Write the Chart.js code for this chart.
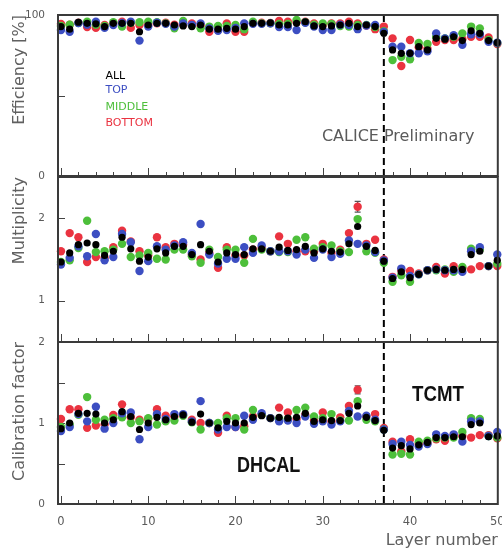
<!DOCTYPE html>
<html><head><meta charset="utf-8">
<script src="https://cdn.jsdelivr.net/npm/chart.js@4.4.1/dist/chart.umd.min.js"></script>
<style>
html,body{margin:0;padding:0;background:#fff;}
#wrap{position:relative;width:502px;height:550px;overflow:hidden;background:#fff;}
canvas{position:absolute;left:0;}
</style></head><body>
<div id="wrap">
<canvas id="c1" width="502" height="190" style="top:0px"></canvas>
<canvas id="c2" width="502" height="190" style="top:165px"></canvas>
<canvas id="c3" width="502" height="220" style="top:330px"></canvas>
</div>
<script>
const layers = [0,1,2,3,4,5,6,7,8,9,10,11,12,13,14,15,16,17,18,19,20,21,22,23,24,25,26,27,28,29,30,31,32,33,34,35,36,37,38,39,40,41,42,43,44,45,46,47,48,49,50];
const xTickLabels = [0,10,20,30,40,50];
const seriesNames = ['ALL','TOP','MIDDLE','BOTTOM'];

const effAll = [92.8,91.2,95.5,94.8,94.5,92.8,94.8,94.8,94.8,89.6, 93.8,94.8,94.8,93.8,93.2,92.8,93.8,91.2,91.2,91.7, 91.2,92.8,94.8,94.8,95.2,93.8,93.8,94.8,95.8,93.2, 92.8,93.2,93.8,94.8,92.8,93.8,92.8,88.6,78.3,76.2, 76.2,80.3,78.3,85.5,85,86.5,84.1,90.2,88.6,84.1,82.8];
const effTop = [90.7,89.6,95,94,95.8,92,93.8,95,95.8,84.1, 92.8,95.2,94.5,92.8,94.8,93.8,94.8,91.7,90.2,90.7, 92,94.8,94.5,94.5,94.8,92.5,92.5,90.7,95.2,92.8, 90.7,90.7,94,93.8,91.2,93.5,93.8,89.5,80.3,80.3, 76.2,76.2,77.5,88.6,85.5,87.5,81.5,88,88,83.4,82.8];
const effMid = [93.2,94,95,95.8,94,93.2,95.5,92.8,95.2,95.5, 95.8,95.5,94.8,91.7,96.3,93.5,91.7,92.8,93.2,93.2, 93.8,91.2,95.8,94.8,94.8,94.5,94.5,96.9,95.5,94, 94.8,94.5,93.2,92.8,93.8,93.8,92.5,90,72,74.1, 72.5,82.6,82,86.5,85.5,86.5,88.6,92.8,91.7,84.5,82.6];
const effBot = [94.5,94,95.2,92.5,92,93.8,95,95.8,92,93.8, 94,94.8,95.2,94,94,94.8,93.5,89.6,90.7,94.8, 89.6,89.6,95,95.2,95,96.3,95.8,95.5,95.8,94.8, 93.8,94.8,94.8,95.8,94.8,93.5,91.2,92.8,85.5,68.3, 84.5,80,79,83.4,84.5,84.5,85,86.5,86.5,86,82];

const multAll = [1.47,1.58,1.68,1.70,1.68,1.55,1.60,1.77,1.63,1.48, 1.53,1.63,1.58,1.66,1.66,1.56,1.68,1.60,1.47,1.58, 1.56,1.56,1.63,1.63,1.60,1.65,1.61,1.62,1.66,1.58, 1.63,1.60,1.59,1.69,1.90,1.66,1.61,1.48,1.27,1.35, 1.28,1.32,1.37,1.38,1.37,1.38,1.38,1.56,1.60,1.42,1.49];
const multTop = [1.44,1.52,1.66,1.54,1.81,1.49,1.53,1.81,1.71,1.36, 1.48,1.66,1.62,1.67,1.71,1.58,1.93,1.56,1.45,1.51, 1.51,1.65,1.58,1.67,1.60,1.60,1.60,1.56,1.62,1.52, 1.62,1.53,1.57,1.73,1.69,1.67,1.59,1.49,1.28,1.39, 1.30,1.32,1.37,1.38,1.37,1.37,1.35,1.60,1.65,1.42,1.56];
const multMid = [1.47,1.49,1.64,1.97,1.59,1.60,1.62,1.69,1.53,1.55, 1.58,1.51,1.50,1.62,1.62,1.54,1.46,1.62,1.53,1.62, 1.62,1.46,1.75,1.62,1.60,1.59,1.59,1.74,1.77,1.63, 1.65,1.67,1.60,1.59,1.99,1.60,1.58,1.46,1.23,1.31, 1.23,1.32,1.37,1.37,1.38,1.35,1.41,1.63,1.62,1.42,1.45];
const multBot = [1.60,1.82,1.77,1.47,1.53,1.52,1.65,1.85,1.72,1.60, 1.55,1.77,1.65,1.69,1.68,1.56,1.50,1.58,1.40,1.65, 1.55,1.55,1.62,1.64,1.60,1.78,1.69,1.60,1.60,1.60, 1.69,1.58,1.62,1.82,2.14,1.69,1.74,1.50,1.29,1.37, 1.36,1.33,1.37,1.41,1.33,1.42,1.39,1.38,1.42,1.42,1.42];
const multBotErr = {34: 0.065};

const calAll = [0.93,1.00,1.12,1.12,1.11,1.00,1.04,1.14,1.08,0.92, 1.00,1.07,1.04,1.08,1.10,1.01,1.11,1.00,0.94,1.02, 1.00,1.00,1.07,1.09,1.06,1.07,1.06,1.07,1.12,1.02, 1.04,1.03,1.03,1.12,1.21,1.07,1.03,0.91,0.69,0.72, 0.68,0.73,0.76,0.82,0.82,0.83,0.83,0.98,1.00,0.83,0.84];
const calTop = [0.90,0.95,1.11,1.02,1.20,0.93,1.00,1.12,1.13,0.80, 0.95,1.11,1.05,1.11,1.11,1.02,1.27,1.00,0.92,0.95, 0.95,1.09,1.04,1.12,1.06,1.02,1.03,1.00,1.08,0.99, 1.02,0.98,1.02,1.15,1.08,1.09,1.04,0.92,0.74,0.77, 0.73,0.71,0.74,0.86,0.84,0.86,0.77,1.02,1.02,0.84,0.89];
const calMid = [0.95,0.98,1.10,1.32,1.04,1.04,1.06,1.07,1.00,1.02, 1.06,0.98,1.02,1.03,1.09,1.01,0.92,1.00,1.00,1.06, 1.06,0.92,1.16,1.10,1.06,1.05,1.05,1.16,1.19,1.08, 1.06,1.11,1.03,1.03,1.27,1.04,1.02,0.92,0.61,0.62, 0.61,0.77,0.78,0.81,0.82,0.82,0.89,1.06,1.05,0.84,0.82];
const calBot = [1.05,1.17,1.17,0.94,0.97,0.98,1.10,1.23,1.07,1.04, 1.05,1.17,1.09,1.08,1.10,1.04,1.00,1.00,0.88,1.09, 0.95,0.96,1.08,1.10,1.06,1.19,1.13,1.05,1.10,1.03, 1.13,1.02,1.07,1.21,1.41,1.08,1.11,0.94,0.77,0.65, 0.80,0.74,0.75,0.80,0.78,0.85,0.84,0.82,0.85,0.85,0.81];
const calBotErr = {34: 0.05};

const COLORS = ['#000000','#3c4ec2','#4dbf3a','#ea3340'];
const RADII = [3.6,4.2,4.2,4.2];
const GRAY_TXT = '#5a5a5a';
const FONT = "'DejaVu Sans', sans-serif";

function mkData(vals){ return layers.map((l,i)=>({x:l, y:vals[i]})); }

const panelPlugin = {
  id:'panel',
  beforeDatasetsDraw(chart){
    const {ctx, chartArea:a, scales:{x,y}} = chart;
    const o = chart.options.plugins.panel;
    ctx.save();
    ctx.strokeStyle = '#444'; ctx.lineWidth = 1;
    y.ticks.forEach(t=>{
      const py = Math.round(y.getPixelForValue(t.value))+0.5;
      ctx.beginPath(); ctx.moveTo(a.left, py); ctx.lineTo(a.left+7, py); ctx.stroke();
    });
    for (let v=0; v<=50; v+=2){
      const px = Math.round(x.getPixelForValue(v))+0.5;
      const len = (v%10===0) ? 8 : 4;
      ctx.beginPath(); ctx.moveTo(px, a.bottom); ctx.lineTo(px, a.bottom-len); ctx.stroke();
    }
    const dx = x.getPixelForValue(37);
    ctx.strokeStyle = '#000'; ctx.lineWidth = 2; ctx.setLineDash([7,4]);
    ctx.beginPath(); ctx.moveTo(dx, a.top); ctx.lineTo(dx, a.bottom); ctx.stroke();
    ctx.setLineDash([]);
    if (o.err){
      ctx.strokeStyle = '#555'; ctx.lineWidth = 1.2;
      Object.keys(o.err.vals).forEach(k=>{
        const i = +k, e = o.err.vals[k], v = o.err.series[i];
        const px = x.getPixelForValue(layers[i]);
        const y1 = y.getPixelForValue(v+e), y2 = y.getPixelForValue(v-e);
        ctx.beginPath(); ctx.moveTo(px,y1); ctx.lineTo(px,y2);
        ctx.moveTo(px-3,y1); ctx.lineTo(px+3,y1);
        ctx.moveTo(px-3,y2); ctx.lineTo(px+3,y2); ctx.stroke();
      });
    }
    ctx.restore();
  },
  afterDatasetsDraw(chart){
    const {ctx, chartArea:a, scales:{x,y}} = chart;
    const o = chart.options.plugins.panel;
    ctx.save();
    ctx.strokeStyle = '#3a3a3a'; ctx.lineWidth = 2;
    ctx.strokeRect(a.left, a.top, a.right-a.left, a.bottom-a.top);
    (o.texts||[]).forEach(t=>{
      ctx.save();
      ctx.font = t.font; ctx.fillStyle = t.color; ctx.textAlign = t.align||'left'; ctx.textBaseline='middle';
      ctx.translate(x.getPixelForValue(t.x), y.getPixelForValue(t.y));
      if (t.sx) ctx.scale(t.sx, 1);
      ctx.fillText(t.text, 0, 0);
      ctx.restore();
    });
    ctx.restore();
  }
};

function makeChart(id, p){
  const datasets = p.series.map((vals,k)=>({
    label: seriesNames[k], data: mkData(vals),
    backgroundColor: COLORS[k], borderColor: COLORS[k], borderWidth:0,
    pointRadius: RADII[k], pointHoverRadius: RADII[k], showLine:false, clip:false
  }));
  return new Chart(document.getElementById(id), {
    type:'scatter',
    data:{datasets},
    options:{
      responsive:false, animation:false, devicePixelRatio:1,
      layout:{padding:{top:p.padTop, bottom:p.padBottom, left:0, right:3}},
      plugins:{legend:{display:false}, tooltip:{enabled:false}, panel:{texts:p.texts, err:p.err}},
      scales:{
        x:{
          type:'linear', min:-0.34, max:50.06, display:p.showX,
          afterBuildTicks:s=>{ s.ticks = xTickLabels.map(v=>({value:v})); },
          ticks:{font:{family:FONT,size:11.5}, color:GRAY_TXT, padding:11, maxRotation:0, autoSkip:false},
          grid:{display:false, drawTicks:false}, border:{display:false},
          title:{display:p.showX, text:'Layer number', align:'end', font:{family:FONT,size:16}, color:'#606060', padding:{top:0,bottom:0}},
          afterFit:s=>{ if (p.showX) { s.height = 46; } else { s.height = 0; } s.paddingLeft = 0; s.paddingRight = 0; }
        },
        y:{
          type:'linear', min:p.yMin, max:p.yMax,
          afterBuildTicks:s=>{ s.ticks = p.yTicks.map(v=>({value:v})); },
          ticks:{font:{family:FONT,size:10.5}, color:GRAY_TXT, padding:13,
            callback:v=> p.yLabels.includes(v) ? String(v) : ''},
          grid:{display:false, drawTicks:false}, border:{display:false},
          title:{display:true, text:p.title, align:'end', font:{family:FONT,size:16}, color:'#606060', padding:{top:10,bottom:0}},
          afterFit:s=>{ s.width = 58; s.paddingTop = 0; s.paddingBottom = 0; }
        }
      }
    },
    plugins:[panelPlugin]
  });
}

makeChart('c1', {
  series:[effAll,effTop,effMid,effBot], yMin:0, yMax:100, yTicks:[0,50,100], yLabels:[0,100],
  title:'Efficiency [%]', padTop:15, padBottom:14, showX:false,
  texts:[
    {text:'ALL', x:5.1, y:62.1, color:COLORS[0], font:"11px "+FONT},
    {text:'TOP', x:5.1, y:53.4, color:COLORS[1], font:"11px "+FONT},
    {text:'MIDDLE', x:5.1, y:42.9, color:COLORS[2], font:"11px "+FONT},
    {text:'BOTTOM', x:5.1, y:32.9, color:COLORS[3], font:"11px "+FONT},
    {text:'CALICE Preliminary', x:29.9, y:24.2, color:'#5a5a5a', font:"16px "+FONT}
  ]
});
makeChart('c2', {
  series:[multAll,multTop,multMid,multBot], yMin:0.5, yMax:2.5, yTicks:[1,2], yLabels:[1,2],
  title:'Multiplicity', padTop:12, padBottom:13, showX:false,
  err:{series:multBot, vals:multBotErr}
});
makeChart('c3', {
  series:[calAll,calTop,calMid,calBot], yMin:0, yMax:2, yTicks:[0,0.5,1,1.5,2], yLabels:[0,1,2],
  title:'Calibration factor', padTop:12, padBottom:0, showX:true,
  err:{series:calBot, vals:calBotErr},
  texts:[
    {text:'DHCAL', x:23.8, y:0.47, color:'#111', font:"bold 22px 'Liberation Sans',sans-serif", align:'center', sx:0.82},
    {text:'TCMT', x:43.2, y:1.35, color:'#111', font:"bold 22px 'Liberation Sans',sans-serif", align:'center', sx:0.85}
  ]
});
</script>
</body></html>
